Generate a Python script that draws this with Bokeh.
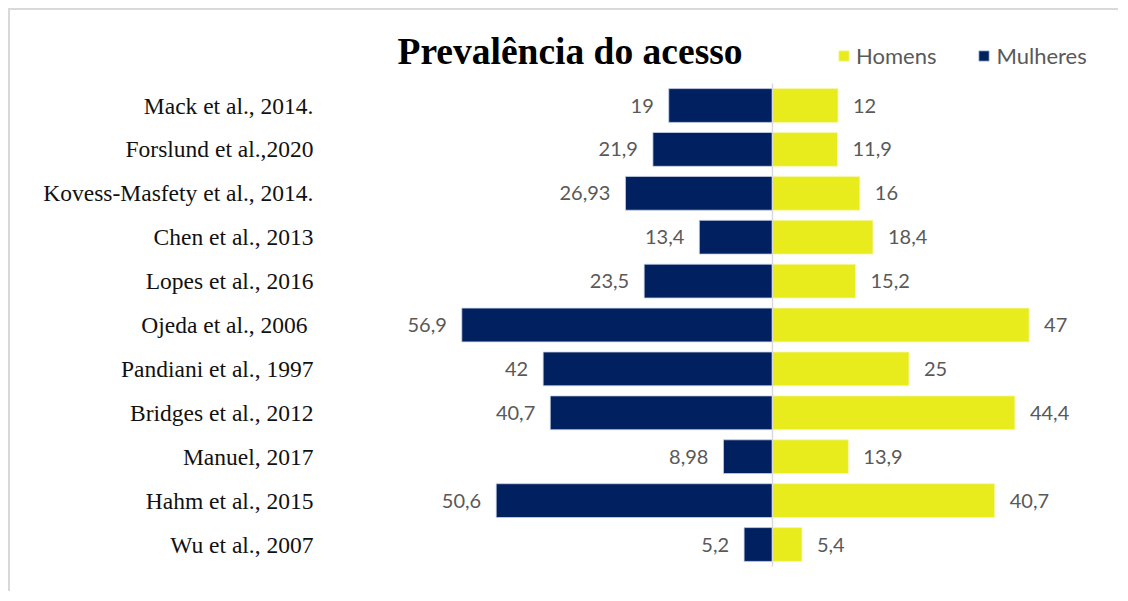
from bokeh.plotting import figure
from bokeh.models import Range1d, FixedTicker, Legend, LegendItem, ColumnDataSource, Label
from bokeh.core.properties import value
from bokeh.embed import file_html
from bokeh.resources import INLINE

studies = ["Mack et al., 2014.", "Forslund et al.,2020", "Kovess-Masfety et al., 2014.",
           "Chen et al., 2013", "Lopes et al., 2016", "Ojeda et al., 2006 ",
           "Pandiani et al., 1997", "Bridges et al., 2012", "Manuel, 2017",
           "Hahm et al., 2015", "Wu et al., 2007"]
mulheres = [19, 21.9, 26.93, 13.4, 23.5, 56.9, 42, 40.7, 8.98, 50.6, 5.2]
homens = [12, 11.9, 16, 18.4, 15.2, 47, 25, 44.4, 13.9, 40.7, 5.4]

def fmt(v):
    return f"{v:g}".replace(".", ",")

rows = list(range(len(studies)))
src = ColumnDataSource(dict(
    y=rows,
    m_left=[-v for v in mulheres],
    h_right=homens,
    zero=[0] * len(rows),
    m_lab=[fmt(v) for v in mulheres],
    h_lab=[fmt(v) for v in homens],
))

NAVY = "#00205F"
YELLOW = "#E8EB1C"
GRAY = "#595959"

p = figure(width=1110, height=583, output_backend="svg", toolbar_location=None,
           x_range=Range1d(-82.78, 63.74), y_range=Range1d(11.116, -2.164),
           x_axis_location=None, min_border_left=310, min_border_right=0,
           min_border_top=0, min_border_bottom=0)
p.styles = {"border-left": "2px solid #d9d9d9", "border-top": "2px solid #d9d9d9",
            "margin-left": "8px", "margin-top": "8px"}

p.xgrid.visible = False
p.ygrid.visible = False
p.outline_line_color = None
p.background_fill_color = "white"
p.border_fill_color = "white"

ax = p.yaxis[0]
ax.ticker = FixedTicker(ticks=rows)
ax.major_label_overrides = {i: s for i, s in enumerate(studies)}
ax.major_label_text_font = "Liberation Serif"
ax.major_label_text_font_size = "23.5px"
ax.major_label_text_color = "#111111"
ax.major_tick_out = 0
ax.major_tick_in = 0
ax.minor_tick_out = 0
ax.minor_tick_in = 0
ax.axis_line_color = None
ax.major_label_standoff = 7

rm = p.hbar(y="y", left="m_left", right="zero", height=0.77, source=src,
            fill_color=NAVY, line_color="#c9d3e6", line_width=0.8)
rh = p.hbar(y="y", left="zero", right="h_right", height=0.77, source=src,
            fill_color=YELLOW, line_color="#f6f7b0", line_width=0.8)

p.segment(x0=0, y0=-0.5, x1=0, y1=len(rows) - 0.5, line_color="#d9d9d9", line_width=1.5)

p.text(x="m_left", y="y", text="m_lab", source=src, x_offset=-15,
       text_align="right", text_baseline="middle", text_font=value("Lato"),
       text_font_size="20px", text_color=GRAY)
p.text(x="h_right", y="y", text="h_lab", source=src, x_offset=15,
       text_align="left", text_baseline="middle", text_font=value("Lato"),
       text_font_size="20px", text_color=GRAY)

title = Label(x=77, y=542, x_units="screen", y_units="screen",
              text="Prevalência do acesso", text_font="Liberation Serif",
              text_font_size="37.5px", text_font_style="bold", text_color="#000000",
              text_align="left", text_baseline="alphabetic")
p.add_layout(title)

legend = Legend(items=[LegendItem(label="Homens", renderers=[rh]),
                       LegendItem(label="Mulheres", renderers=[rm])],
                location=(517, 524), orientation="horizontal",
                glyph_width=13, glyph_height=13, label_standoff=6, spacing=41,
                padding=0, margin=0, border_line_color=None, background_fill_alpha=0,
                label_text_font="Lato", label_text_font_size="22px",
                label_text_color=GRAY)
p.add_layout(legend, "center")

open("out.html", "w").write(file_html(p, INLINE))
